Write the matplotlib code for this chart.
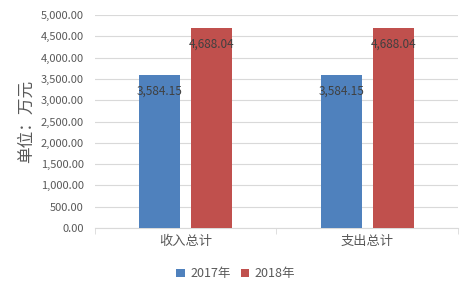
import matplotlib.pyplot as plt
import numpy as np

plt.rcParams['font.family'] = ['Noto Sans CJK SC', 'DejaVu Sans']

categories = ['收入总计', '支出总计']
series_names = ['2017年', '2018年']
v2017 = [3584.15, 3584.15]
v2018 = [4688.04, 4688.04]
colors = ['#4F81BD', '#C0504D']
txt = '#595959'

fig = plt.figure(figsize=(4.74, 2.96), dpi=100)
ax = fig.add_axes([0.2004, 0.2297, 0.7658, 0.7196])

x = np.arange(len(categories))
w = 0.226
off = 0.143
for vals, name, c, dx in zip([v2017, v2018], series_names, colors, [-off, off]):
    bars = ax.bar(x + dx, vals, width=w, color=c, label=name, zorder=3)
    for b, v in zip(bars, vals):
        ax.text(b.get_x() + b.get_width() / 2, v - 380, f'{v:,.2f}',
                ha='center', va='center', fontsize=8.5, color='#404040', zorder=4)

ax.set_xlim(-0.5, 1.5)
ax.set_ylim(0, 5000)
ax.set_yticks(np.arange(0, 5001, 500))
ax.set_yticklabels([f'{t:,.2f}' for t in np.arange(0, 5001, 500)])
ax.set_xticks(x)
ax.set_xticklabels(categories)
ax.set_xticks([-0.5, 0.5, 1.5], minor=True)
ax.tick_params(axis='x', which='major', length=0, labelsize=9.5, colors=txt, pad=5)
ax.tick_params(axis='x', which='minor', length=4, color='#d9d9d9', direction='out')
ax.tick_params(axis='y', length=0, labelsize=8, colors=txt, pad=8)
ax.grid(axis='y', color='#d9d9d9', linewidth=0.8, zorder=0)
for s in ['top', 'right', 'left']:
    ax.spines[s].set_visible(False)
ax.spines['bottom'].set_color('#d9d9d9')
ax.set_ylabel('单位：万元', fontsize=12, color=txt, labelpad=4)

fig.legend(loc='center', bbox_to_anchor=(0.497, 0.075), ncol=2, frameon=False,
           fontsize=9, handlelength=0.7, handleheight=0.7, handletextpad=0.4,
           columnspacing=0.8, labelcolor=txt)

fig.savefig('out.png', dpi=100)
